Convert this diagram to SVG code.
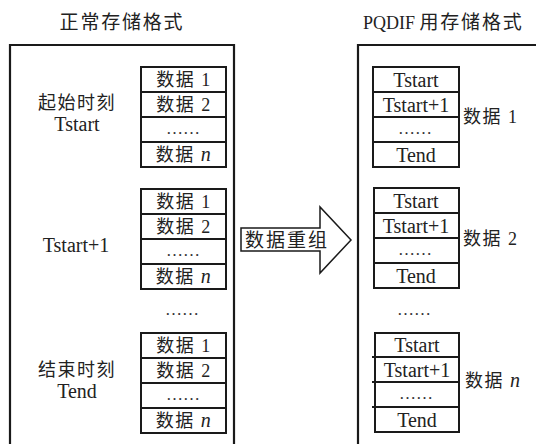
<svg xmlns="http://www.w3.org/2000/svg" width="536" height="444" viewBox="0 0 536 444">
<style>
.frame{fill:none;stroke:#1a1a1a;stroke-width:2.2}
.cell{fill:#fff;stroke:#1a1a1a;stroke-width:2}
.div{stroke:#1a1a1a;stroke-width:2}
.t{font-family:'Liberation Serif','Times New Roman','DejaVu Serif','Noto Sans CJK SC',serif;fill:#222}
.cj{font-size:18px;letter-spacing:1.5px}
.lat{font-size:20px;letter-spacing:0}
.dots{font-family:'Liberation Serif','Times New Roman',serif;font-size:17px;fill:#333}
.title{font-size:19px;letter-spacing:1.8px}
.mid{text-anchor:middle}
</style>
<rect width="536" height="444" fill="#fff"/>
<g id="title-left"><text class="t title mid" x="122" y="29">正常存储格式</text></g>
<g id="title-right"><text class="t title" x="363" y="29"><tspan letter-spacing="0" font-size="18">PQDIF </tspan>用存储格式</text></g>
<g id="frame-left"><path class="frame" d="M10,446 V45 H234 V446"/></g>
<g id="frame-right"><path class="frame" d="M358,446 V45 H540"/></g>

<g id="left-group-1">
<text class="t cj mid" x="77" y="109">起始时刻</text>
<text class="t lat mid" x="77" y="131">Tstart</text>
<rect class="cell" x="141" y="67" width="85" height="100"/>
<path class="div" d="M141,92 H226 M141,117 H226 M141,142 H226"/>
<text class="t cj mid" x="184" y="86">数据 1</text>
<text class="t cj mid" x="184" y="111">数据 2</text>
<text class="dots mid" x="183" y="134">……</text>
<text class="t cj mid" x="184" y="161">数据 <tspan font-style="italic" font-size="20">n</tspan></text>
</g>

<g id="left-group-2">
<text class="t lat mid" x="76" y="252">Tstart+1</text>
<rect class="cell" x="141" y="189" width="85" height="100"/>
<path class="div" d="M141,214 H226 M141,239 H226 M141,264 H226"/>
<text class="t cj mid" x="184" y="208">数据 1</text>
<text class="t cj mid" x="184" y="233">数据 2</text>
<text class="dots mid" x="183" y="256">……</text>
<text class="t cj mid" x="184" y="283">数据 <tspan font-style="italic" font-size="20">n</tspan></text>
</g>

<g id="left-ellipsis"><text class="dots mid" x="182" y="315">……</text></g>

<g id="left-group-n">
<text class="t cj mid" x="77" y="376">结束时刻</text>
<text class="t lat mid" x="77" y="398">Tend</text>
<rect class="cell" x="141" y="333" width="85" height="100"/>
<path class="div" d="M141,358 H226 M141,383 H226 M141,408 H226"/>
<text class="t cj mid" x="184" y="352">数据 1</text>
<text class="t cj mid" x="184" y="377">数据 2</text>
<text class="dots mid" x="183" y="400">……</text>
<text class="t cj mid" x="184" y="427">数据 <tspan font-style="italic" font-size="20">n</tspan></text>
</g>

<g id="connectors">
<path d="M241,228 H320 V207 L351,240 L320,273 V251 H241 Z" fill="#fff" stroke="#1a1a1a" stroke-width="1.5" stroke-linejoin="miter"/>
<text class="t mid" x="287" y="247" font-size="19" letter-spacing="2">数据重组</text>
</g>

<g id="right-group-1">
<rect class="cell" x="373" y="67" width="86" height="100"/>
<path class="div" d="M373,92 H459 M373,117 H459 M373,142 H459"/>
<text class="t lat mid" x="416" y="87">Tstart</text>
<text class="t lat mid" x="416" y="112">Tstart+1</text>
<text class="dots mid" x="415" y="134">……</text>
<text class="t lat mid" x="416" y="162">Tend</text>
<text class="t cj" x="463" y="123">数据 1</text>
</g>

<g id="right-group-2">
<rect class="cell" x="374" y="188" width="85" height="100"/>
<path class="div" d="M374,213 H459 M374,238 H459 M374,263 H459"/>
<text class="t lat mid" x="416" y="208">Tstart</text>
<text class="t lat mid" x="416" y="233">Tstart+1</text>
<text class="dots mid" x="415" y="255">……</text>
<text class="t lat mid" x="416" y="283">Tend</text>
<text class="t cj" x="463" y="245">数据 2</text>
</g>

<g id="right-ellipsis"><text class="dots mid" x="414" y="315">……</text></g>

<g id="right-group-n">
<rect class="cell" x="375" y="333" width="84" height="99"/>
<path class="div" d="M372,357 H459 M372,382 H459 M372,407 H459"/>
<text class="t lat mid" x="417" y="352">Tstart</text>
<text class="t lat mid" x="417" y="377">Tstart+1</text>
<text class="dots mid" x="416" y="399">……</text>
<text class="t lat mid" x="417" y="427">Tend</text>
<text class="t cj" x="465" y="387">数据 <tspan font-style="italic" font-size="20">n</tspan></text>
</g>
</svg>
